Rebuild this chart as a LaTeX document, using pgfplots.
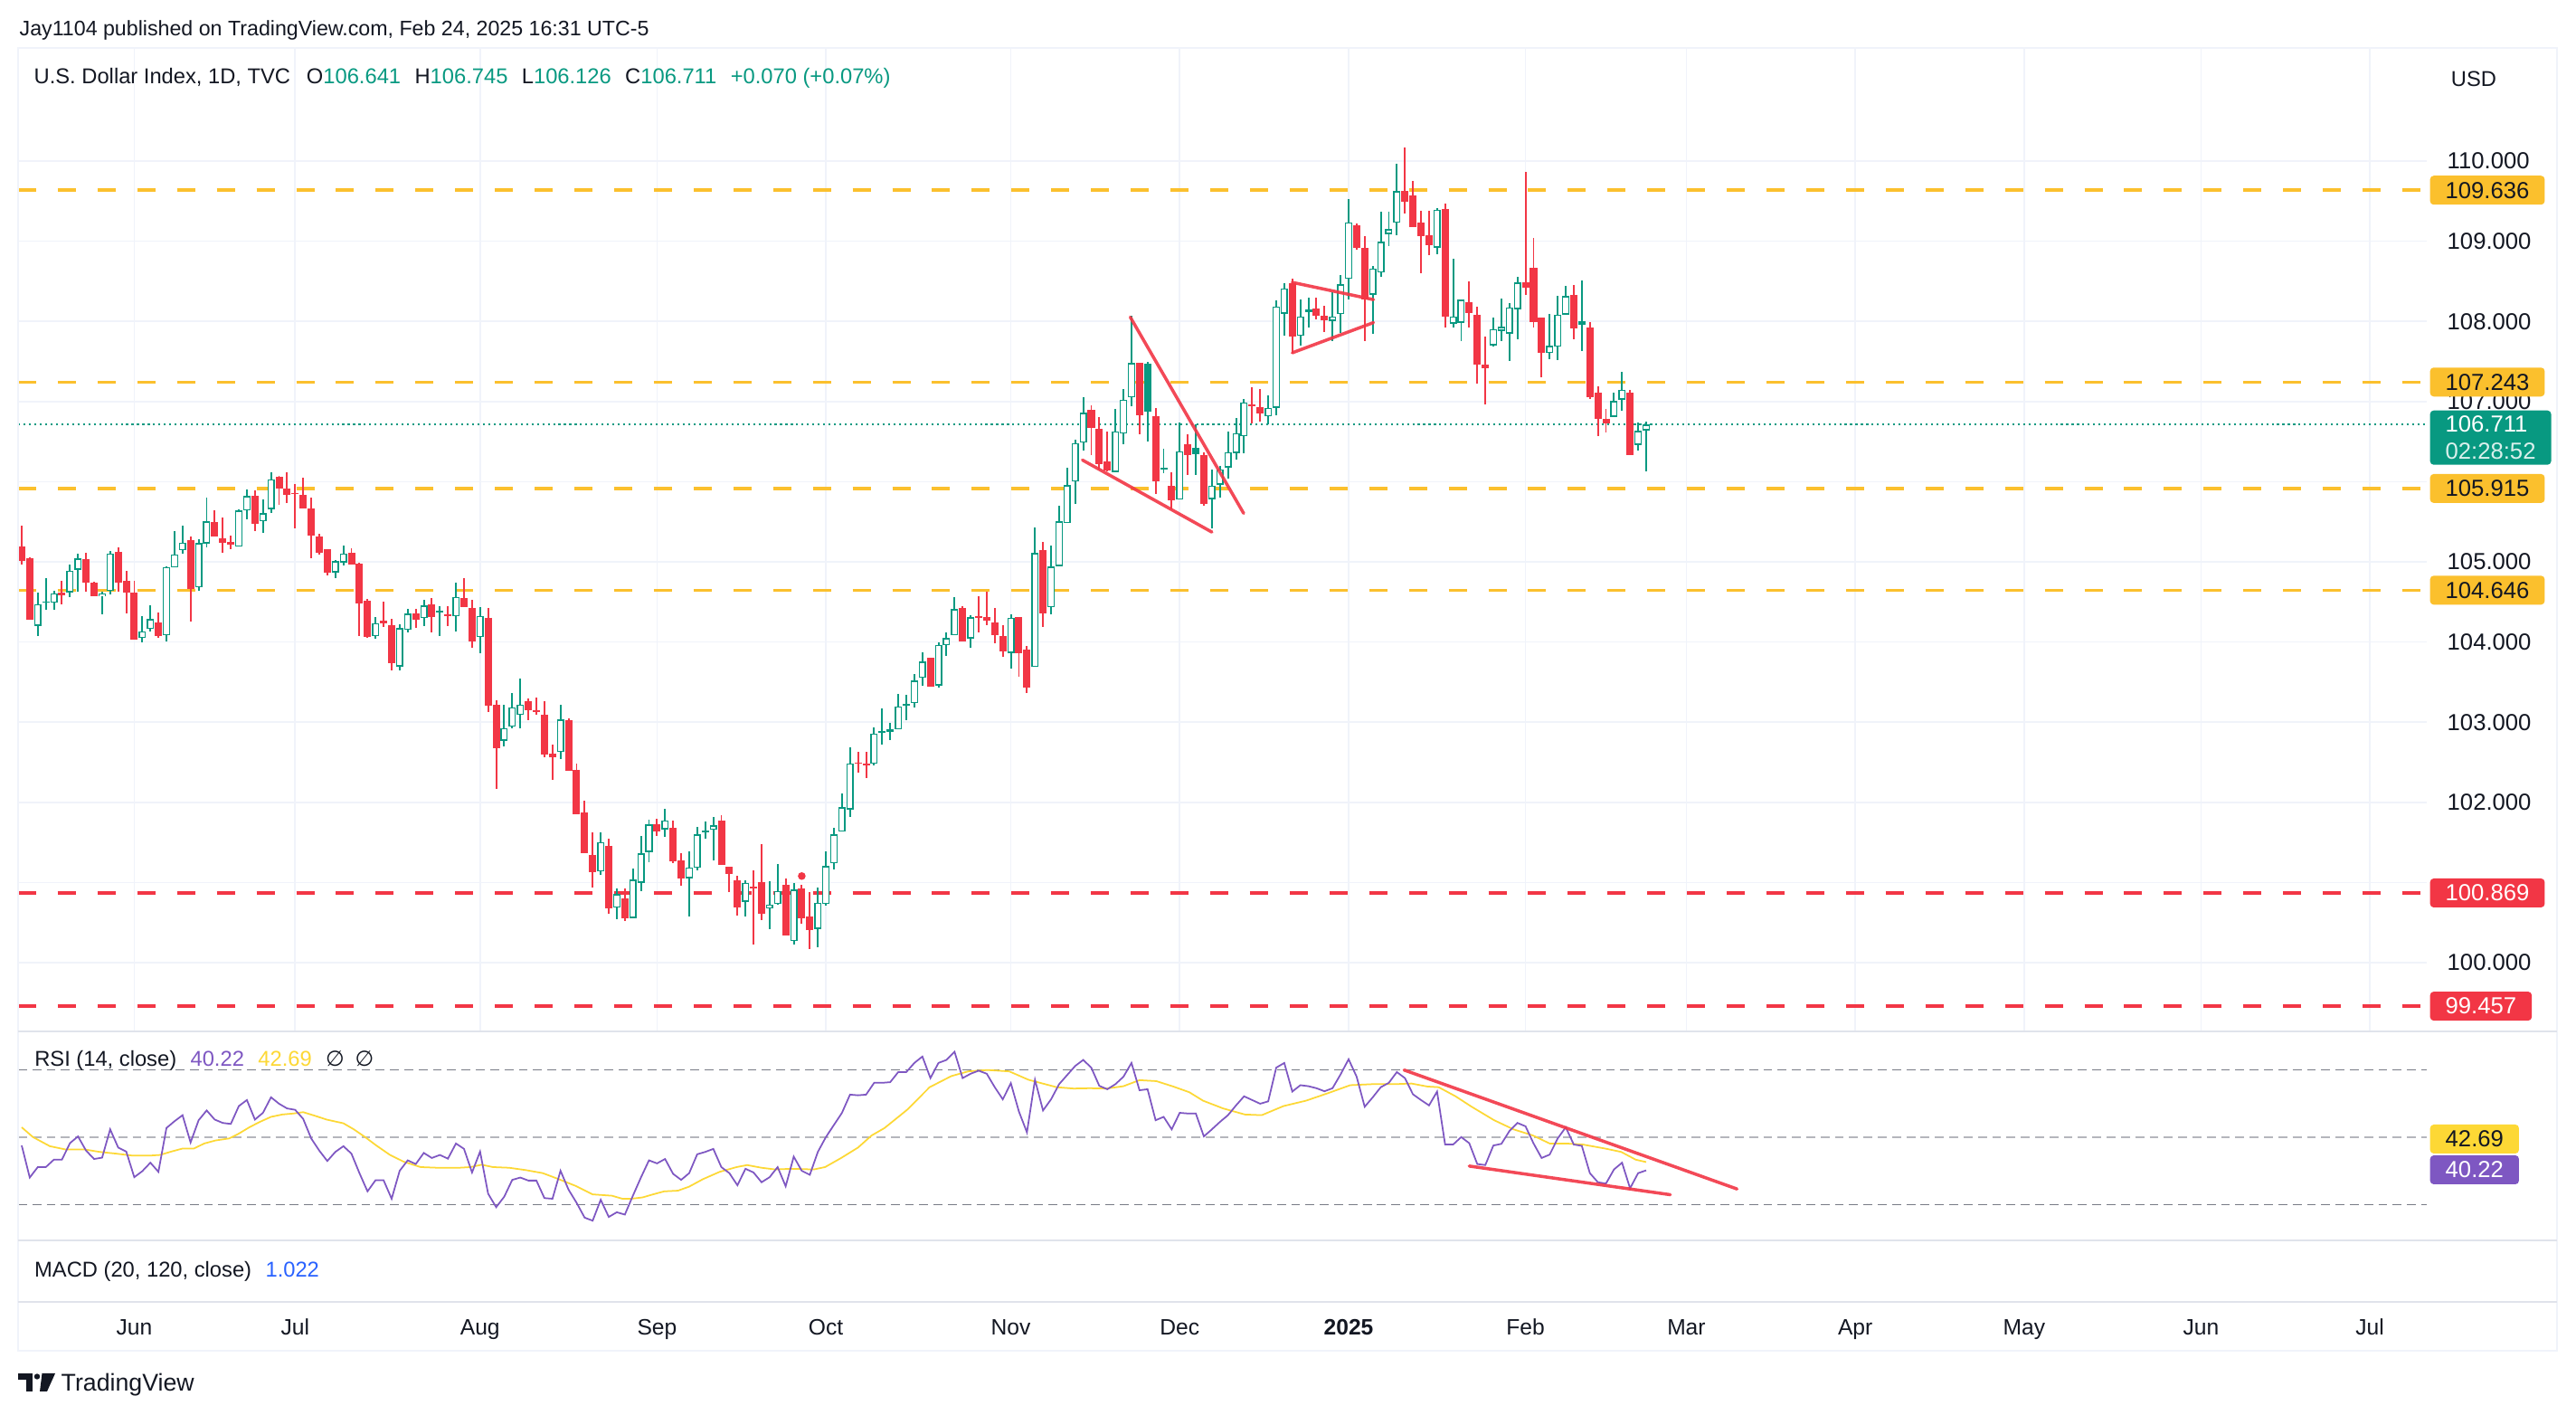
\documentclass[border=0pt]{standalone}
\usepackage{fontspec}
\setmainfont{Liberation Sans}
\newfontfamily\djv{DejaVu Sans}
\usepackage{pgfplots}
\pgfplotsset{compat=1.18}
\usepackage{pgfplotstable}

\definecolor{tvgreen}{HTML}{089981}
\definecolor{tvred}{HTML}{F23645}
\definecolor{tvorange}{HTML}{FBC02D}
\definecolor{tvpurple}{HTML}{7E57C2}
\definecolor{tvyellow}{HTML}{FDD835}
\definecolor{tvband}{HTML}{F1EDF8}
\definecolor{tvgrid}{HTML}{F0F3FA}
\definecolor{tvsep}{HTML}{E0E3EB}
\definecolor{tvtext}{HTML}{131722}
\definecolor{tvgray}{HTML}{787B86}
\definecolor{tvblue}{HTML}{2962FF}

\newcommand\fa{\fontsize{6.75}{8}\selectfont}
\newcommand\fh{\fontsize{6.6}{8}\selectfont}
\newcommand\fp{\fontsize{7.3}{8}\selectfont}
\newcommand\fd{\fontsize{7.0}{8}\selectfont}

% daily candles, x = bar index (0 = mid May 2024, 202 = 24 Feb 2025)
% hollow green: close > open
\pgfplotstableread{
i o h l c
2 104.200 104.618 104.079 104.475
3 104.495 104.795 104.400 104.502
4 104.493 104.636 104.400 104.606
6 104.618 104.964 104.557 104.889
7 104.900 105.104 104.625 105.040
10 104.569 104.633 104.343 104.606
11 104.637 105.134 104.595 105.107
15 104.053 104.324 103.992 104.136
16 104.166 104.456 104.128 104.286
18 104.087 104.942 104.004 104.934
19 104.934 105.386 104.934 105.096
20 105.145 105.454 105.096 105.243
22 104.682 105.284 104.644 105.235
23 105.228 105.800 105.179 105.503
27 105.190 105.657 105.190 105.642
28 105.642 105.906 105.537 105.819
30 105.507 105.782 105.367 105.605
31 105.657 106.121 105.605 106.030
39 104.868 105.020 104.803 105.009
40 104.994 105.204 104.952 105.108
44 104.075 104.316 104.037 104.239
47 103.694 104.220 103.649 104.171
48 104.152 104.411 104.125 104.354
50 104.296 104.525 104.201 104.457
52 104.373 104.449 104.079 104.388
54 104.323 104.742 104.136 104.563
57 104.060 104.437 103.866 104.327
60 102.772 103.222 102.703 102.925
61 102.944 103.363 102.925 103.184
62 103.088 103.542 102.925 103.222
67 102.627 103.222 102.543 103.031
72 101.136 101.625 101.090 101.505
74 100.684 100.928 100.544 100.853
76 100.556 101.173 100.556 101.034
77 100.996 101.580 100.895 101.362
78 101.380 101.787 101.252 101.723
80 101.663 101.919 101.569 101.776
83 101.053 101.392 100.582 101.185
84 101.185 101.693 101.147 101.599
85 101.637 101.761 101.542 101.648
86 101.663 101.817 101.271 101.712
90 100.759 101.026 100.571 100.996
93 100.676 101.015 100.420 100.725
94 100.733 101.234 100.721 100.895
96 100.273 100.996 100.232 100.910
99 100.420 100.932 100.194 100.751
100 100.733 101.392 100.714 101.203
101 101.241 101.686 101.166 101.599
102 101.637 102.107 101.637 101.938
103 101.911 102.691 101.817 102.484
106 102.483 102.930 102.463 102.860
107 102.872 103.175 102.724 102.887
108 102.879 102.988 102.774 102.910
109 102.910 103.350 102.910 103.198
110 103.214 103.339 103.027 103.230
111 103.241 103.599 103.183 103.521
112 103.553 103.872 103.455 103.755
114 103.455 104.000 103.428 103.961
115 103.961 104.117 103.825 104.047
116 104.086 104.564 104.086 104.409
118 104.047 104.331 103.930 104.311
123 103.864 104.350 103.669 104.304
126 103.689 105.428 103.689 105.109
128 104.436 105.206 104.342 104.942
129 104.946 105.704 104.946 105.506
130 105.486 106.179 105.486 105.957
131 106.004 106.529 105.720 106.479
132 106.490 107.054 106.385 106.860
136 106.121 106.911 106.121 106.626
137 106.599 107.152 106.471 107.023
138 107.054 108.066 106.938 107.482
142 106.147 106.414 106.102 106.170
144 105.774 106.734 105.774 106.377
148 105.782 106.151 105.424 105.951
149 105.962 106.200 105.800 106.151
150 106.177 106.629 106.038 106.369
151 106.358 106.798 106.275 106.603
152 106.565 107.036 106.350 106.991
155 106.817 107.073 106.716 106.923
156 106.923 108.260 106.829 108.185
157 108.098 108.475 107.827 108.411
159 107.819 108.271 107.695 108.064
163 108.008 108.362 107.751 108.064
164 108.090 108.580 107.857 108.460
165 108.531 109.529 108.271 109.239
168 108.335 108.693 107.846 108.663
169 108.610 109.371 108.561 108.994
170 109.089 109.371 108.938 109.153
171 109.228 109.962 109.077 109.627
176 108.919 109.416 108.836 109.397
178 107.970 108.787 107.921 108.064
179 107.985 108.279 107.751 108.271
183 107.702 108.053 107.684 107.902
184 107.883 108.290 107.751 107.932
185 107.846 108.234 107.507 108.173
186 108.154 108.561 107.782 108.486
190 107.608 108.098 107.533 107.695
191 107.687 108.316 107.514 108.083
192 108.083 108.440 108.083 108.316
198 106.810 107.111 106.810 107.006
199 107.024 107.375 106.885 107.149
201 106.459 106.734 106.388 106.633
202 106.641 106.745 106.126 106.711
}\upc

% filled red: close < open
\pgfplotstableread{
i o h l c
0 105.190 105.454 104.964 105.009
1 105.047 105.058 104.275 104.275
5 104.618 104.765 104.475 104.588
8 105.032 105.115 104.633 104.738
9 104.738 104.750 104.569 104.569
12 105.126 105.179 104.633 104.738
13 104.765 104.889 104.362 104.614
14 104.614 104.765 104.034 104.034
17 104.241 104.369 104.049 104.079
21 105.273 105.318 104.260 104.663
24 105.499 105.642 105.311 105.322
25 105.292 105.556 105.115 105.243
26 105.247 105.330 105.153 105.209
29 105.823 105.895 105.379 105.469
32 106.064 106.075 105.706 105.913
33 105.913 106.121 105.736 105.842
34 105.861 105.974 105.424 105.849
35 105.832 106.050 105.661 105.661
36 105.668 105.802 105.051 105.325
37 105.318 105.352 105.097 105.116
38 105.162 105.162 104.830 104.860
41 105.116 105.165 104.971 104.971
42 104.975 104.990 104.079 104.487
43 104.514 104.537 104.049 104.068
45 104.266 104.506 104.190 104.239
46 104.209 104.289 103.649 103.732
49 104.354 104.411 104.182 104.278
51 104.468 104.552 104.125 104.316
53 104.342 104.449 104.201 104.323
55 104.548 104.800 104.441 104.441
56 104.426 104.525 103.923 104.003
58 104.304 104.422 103.123 103.210
59 103.222 103.275 102.162 102.673
63 103.260 103.298 103.031 103.146
64 103.153 103.306 103.096 103.123
65 103.096 103.260 102.562 102.593
66 102.608 102.722 102.277 102.562
68 103.024 103.046 102.391 102.391
69 102.410 102.486 101.850 101.850
70 101.877 102.018 101.362 101.370
71 101.343 101.625 100.940 101.128
73 101.456 101.542 100.608 100.676
75 100.808 100.928 100.518 100.556
79 101.731 101.798 101.580 101.636
81 101.686 101.776 101.241 101.260
82 101.279 101.365 100.966 101.045
87 101.776 101.844 101.222 101.222
88 101.196 101.196 100.883 101.102
89 101.026 101.090 100.593 100.695
91 100.947 101.147 100.224 100.932
92 101.004 101.475 100.533 100.608
95 100.970 101.053 100.345 100.345
97 100.925 100.970 100.480 100.556
98 100.582 100.883 100.168 100.412
104 102.500 102.627 102.370 102.480
105 102.483 102.626 102.300 102.471
113 103.805 103.805 103.447 103.447
117 104.428 104.447 104.008 104.008
119 104.323 104.576 104.117 104.311
120 104.311 104.630 104.214 104.272
121 104.241 104.428 103.981 104.086
122 104.078 104.214 103.817 103.883
124 104.311 104.311 103.572 103.864
125 103.903 103.953 103.370 103.436
127 105.148 105.253 104.183 104.358
133 106.899 106.957 106.335 106.673
134 106.665 106.809 106.148 106.218
135 106.257 106.626 106.132 106.140
139 107.482 107.482 106.595 106.829
141 106.821 106.923 105.849 106.011
143 105.944 106.124 105.661 105.774
145 106.471 106.591 106.087 106.328
147 106.328 106.365 105.699 105.718
153 106.968 107.179 106.727 106.942
154 106.934 107.156 106.753 106.855
158 108.475 108.531 107.601 107.808
161 108.158 108.298 108.023 108.072
162 108.072 108.196 107.864 108.008
166 109.202 109.220 108.900 108.919
167 108.919 109.070 107.751 108.279
172 109.627 110.173 109.341 109.492
173 109.567 109.748 109.175 109.175
174 109.228 109.379 108.599 109.062
175 109.070 109.379 108.825 108.949
177 109.397 109.465 107.921 108.060
180 108.241 108.505 107.921 108.102
181 108.083 108.185 107.224 107.458
182 107.461 107.808 106.968 107.412
187 108.493 109.868 108.335 108.418
188 108.674 109.040 107.921 107.989
189 108.053 108.053 107.300 107.612
193 108.335 108.460 107.782 107.910
195 107.921 107.996 107.028 107.055
196 107.111 107.186 106.565 106.780
197 106.783 106.904 106.621 106.727
200 107.111 107.149 106.328 106.328
}\dnc

% filled green: close < open but above previous close
\pgfplotstableread{
i o h l c
140 107.476 107.495 106.501 106.874
146 106.426 106.716 106.087 106.347
160 108.147 108.298 107.921 108.120
194 108.008 108.516 107.627 107.959
}\fgc

% RSI(14)
\pgfplotstableread{
i r
0 47.6
1 38.1
2 41.2
3 41.2
4 43.4
5 43.4
6 48.3
7 50.3
8 46.1
9 43.6
10 44.0
11 52.4
12 47.0
13 45.8
14 38.2
15 40.0
16 42.5
17 39.8
18 52.8
19 54.8
20 56.6
21 48.5
22 55.1
23 58.0
24 55.3
25 54.3
26 54.0
27 59.3
28 61.1
29 55.3
30 57.3
31 61.9
32 60.0
33 58.6
34 58.2
35 55.5
36 49.7
37 46.1
38 43.0
39 45.7
40 47.4
41 45.2
42 39.4
43 34.0
44 37.3
45 37.3
46 31.8
47 40.1
48 43.2
49 42.1
50 45.4
51 43.9
52 44.8
53 43.7
54 48.2
55 46.6
56 39.6
57 45.8
58 33.3
59 29.3
60 32.4
61 37.4
62 38.1
63 37.2
64 37.2
65 32.0
66 31.8
67 40.1
68 34.5
69 30.6
70 26.2
71 25.3
72 31.5
73 26.4
74 27.8
75 27.1
76 32.7
77 38.1
78 43.2
79 42.3
80 43.6
81 39.2
82 37.4
83 39.4
84 45.0
85 45.7
86 46.6
87 41.2
88 39.4
89 35.8
90 40.7
91 39.6
92 36.7
93 38.2
94 41.2
95 35.5
96 44.3
97 40.1
98 38.9
99 45.7
100 50.1
101 53.7
102 57.3
103 62.7
104 62.5
105 62.7
106 66.2
107 66.2
108 66.4
109 69.4
110 69.4
111 72.1
112 74.0
113 67.6
114 72.1
115 73.0
116 75.4
117 67.6
118 68.9
119 69.8
120 68.9
121 64.9
122 61.3
123 66.1
124 57.7
125 51.5
126 67.1
127 58.0
128 61.3
129 65.8
130 68.5
131 71.2
132 73.0
133 70.7
134 65.3
135 64.3
136 65.8
137 68.0
138 72.1
139 64.0
140 64.3
141 55.1
142 56.1
143 52.4
144 57.3
145 57.1
146 57.1
147 50.3
148 52.4
149 54.6
150 56.6
151 59.5
152 62.2
153 61.1
154 60.0
155 60.7
156 70.7
157 72.1
158 63.6
159 65.5
160 65.2
161 64.6
162 63.7
163 64.6
164 68.7
165 73.2
166 68.0
167 59.1
168 61.9
169 64.9
170 66.2
171 69.4
172 67.6
173 62.8
174 61.1
175 59.5
176 63.6
177 47.9
178 47.9
179 50.1
180 48.3
181 42.1
182 41.8
183 47.6
184 48.1
185 51.9
186 54.3
187 53.3
188 48.2
189 43.9
190 44.9
191 49.7
192 53.0
193 47.9
194 47.5
195 39.4
196 36.7
197 36.3
198 40.5
199 42.5
200 34.9
201 39.4
202 40.22
}\rsi

% RSI-based moving average
\pgfplotstableread{
i m
0 53.0
1.4 50.1
3.5 47.4
5.5 46.4
7.9 46.4
9.7 45.7
11.7 45.2
13.8 44.6
15.9 44.6
17.2 44.8
18.6 45.8
20.0 46.7
21.4 46.7
22.7 48.2
24.1 49.1
25.8 49.7
26.9 51.0
28.3 53.0
29.6 54.6
31.0 56.1
32.4 56.8
33.8 57.1
35.0 57.5
36.5 56.4
37.9 55.3
40.0 54.2
41.3 52.4
42.7 50.1
44.1 47.6
45.8 44.8
47.5 42.8
49.6 41.2
51.7 41.0
54.4 41.0
55.8 41.2
57.2 41.9
58.6 41.2
60.6 41.0
62.7 40.3
64.8 39.4
66.8 37.6
68.9 35.6
71.0 33.1
73.4 32.7
74.7 31.8
75.8 31.8
77.2 32.2
78.5 33.1
79.9 34.0
81.6 34.2
83.0 35.4
84.7 37.6
86.8 39.8
88.9 41.2
90.2 41.8
92.0 41.0
93.7 40.5
95.7 40.7
98.5 40.5
99.9 41.2
101.9 43.9
104.0 47.0
105.7 50.6
107.3 52.8
110.1 58.2
112.9 64.9
115.6 68.2
117.7 69.6
120.1 70.0
122.8 69.6
125.2 67.1
128.7 64.9
130.8 64.5
132.8 64.6
134.9 64.5
137.0 65.2
139.0 67.0
141.1 66.7
143.2 65.1
145.2 63.4
146.9 60.9
149.4 58.6
152.1 56.8
154.2 56.6
156.9 59.3
159.7 60.9
162.4 63.1
165.2 65.5
167.9 65.8
170.7 65.8
172.8 66.0
174.8 65.1
176.2 64.9
178.3 62.2
180.3 59.1
183.1 55.1
185.5 52.4
187.9 50.6
190.0 48.2
192.0 48.2
194.1 47.9
196.9 46.7
198.9 45.7
200.7 43.4
202.0 42.69
}\rsima

\tikzset{
  pbox/.style={anchor=west, inner xsep=0.17cm, inner ysep=0pt, minimum height=0.32cm,
    rounded corners=0.04cm, font=\fp},
}
\pgfplotsset{
  tvpane/.style={scale only axis, anchor=south west, width=26.63cm,
    xmin=-0.45, xmax=299.07,
    axis line style={draw=none}, major tick length=0pt,
    xtick={14,34,57,79,100,123,144,165,187,207,228,249,271,292},
    grid style={tvgrid, line width=0.5pt},
    y tick label style={font=\fp, text=tvtext, anchor=west, xshift=0.22cm, inner sep=0pt},
    yticklabel pos=right},
  candle/.style n args={2}{color=#1, only marks, mark=*, mark size=0pt,
    mark options={opacity=0}, forget plot,
    error bars/.cd, y dir=both, y explicit, error mark=none,
    error bar style={draw=#1, line width=#2, line cap=butt}},
  level/.style={#1, line width=1.0pt, dash pattern=on 5.7pt off 6.8pt, forget plot},
}

\begin{document}
\begin{tikzpicture}
\fill[white] (0,0) rectangle (28.48,15.64);

% ---------- price pane ----------
\begin{axis}[tvpane, at={(0.20cm,4.24cm)}, height=10.87cm,
  ymin=99.142, ymax=111.411,
  xmajorgrids, ymajorgrids, xticklabels={},
  ytick={100,102,103,104,105,107,108,109,110},
  yticklabels={100.000,102.000,103.000,104.000,105.000,107.000,108.000,109.000,110.000},
  extra y ticks={101,106}, extra y tick labels={},
  extra y tick style={grid=major, grid style={tvgrid, line width=0.5pt}},
]
\addplot[level=tvorange] coordinates {(-0.45,109.636) (299.07,109.636)};
\addplot[level=tvorange] coordinates {(-0.45,107.243) (299.07,107.243)};
\addplot[level=tvorange] coordinates {(-0.45,105.915) (299.07,105.915)};
\addplot[level=tvorange] coordinates {(-0.45,104.646) (299.07,104.646)};
\addplot[level=tvred] coordinates {(-0.45,100.869) (299.07,100.869)};
\addplot[level=tvred] coordinates {(-0.45,99.457) (299.07,99.457)};
\addplot[tvgreen, line width=0.6pt, dash pattern=on 0.6pt off 1.1pt, forget plot]
  coordinates {(-0.45,106.711) (299.07,106.711)};

% wicks
\addplot[candle={tvgreen}{0.55pt}] table[x=i, y expr={(\thisrow{h}+\thisrow{l})/2},
  y error expr={(\thisrow{h}-\thisrow{l})/2}] {\upc};
\addplot[candle={tvred}{0.55pt}] table[x=i, y expr={(\thisrow{h}+\thisrow{l})/2},
  y error expr={(\thisrow{h}-\thisrow{l})/2}] {\dnc};
\addplot[candle={tvgreen}{0.55pt}] table[x=i, y expr={(\thisrow{h}+\thisrow{l})/2},
  y error expr={(\thisrow{h}-\thisrow{l})/2}] {\fgc};
% bodies
\addplot[candle={tvgreen}{2.28pt}] table[x=i, y expr={(\thisrow{o}+\thisrow{c})/2},
  y error expr={max(abs(\thisrow{o}-\thisrow{c})/2,0.008)}] {\upc};
\addplot[candle={white}{1.48pt}] table[x=i, y expr={(\thisrow{o}+\thisrow{c})/2},
  y error expr={max(abs(\thisrow{o}-\thisrow{c})/2-0.016,0)}] {\upc};
\addplot[candle={tvred}{2.28pt}] table[x=i, y expr={(\thisrow{o}+\thisrow{c})/2},
  y error expr={max(abs(\thisrow{o}-\thisrow{c})/2,0.008)}] {\dnc};
\addplot[candle={tvgreen}{2.28pt}] table[x=i, y expr={(\thisrow{o}+\thisrow{c})/2},
  y error expr={max(abs(\thisrow{o}-\thisrow{c})/2,0.008)}] {\fgc};

\addplot[only marks, mark=*, mark size=1pt, tvred, forget plot] coordinates {(97,101.08)};

% pattern lines
\addplot[tvred, line width=1.0pt, line cap=round, opacity=0.9] coordinates {(137.85,108.053) (151.95,105.605)};
\addplot[tvred, line width=1.0pt, line cap=round, opacity=0.9] coordinates {(131.9,106.27) (148.0,105.371)};
\addplot[tvred, line width=1.0pt, line cap=round, opacity=0.9] coordinates {(158.0,108.486) (168.1,108.271)};
\addplot[tvred, line width=1.0pt, line cap=round, opacity=0.9] coordinates {(158.0,107.608) (168.1,107.985)};

\coordinate (b1) at (axis cs:299.4,109.636);
\coordinate (b2) at (axis cs:299.4,107.243);
\coordinate (b3) at (axis cs:299.4,105.915);
\coordinate (b4) at (axis cs:299.4,104.646);
\coordinate (b5) at (axis cs:299.4,100.869);
\coordinate (b6) at (axis cs:299.4,99.457);
\coordinate (bc) at (axis cs:299.4,106.711);
\end{axis}

% ---------- RSI pane ----------
\begin{axis}[tvpane, at={(0.20cm,1.93cm)}, height=2.31cm,
  ymin=19.45, ymax=81.46, set layers,
  xmajorgrids, ymajorgrids, xticklabels={},
  ytick={60,80}, yticklabels={60.00,80.00},
  extra y ticks={40}, extra y tick labels={},
  extra y tick style={grid=major, grid style={tvgrid, line width=0.5pt}},
]
\addplot[on layer=axis background, draw=none, fill=tvband, forget plot]
  coordinates {(-0.45,30) (299.07,30) (299.07,70) (-0.45,70)};
\addplot[tvgray, line width=0.45pt, dash pattern=on 2.8pt off 1.7pt, forget plot]
  coordinates {(-0.45,70) (299.07,70)};
\addplot[tvgray!55, line width=0.45pt, dash pattern=on 2.8pt off 1.7pt, forget plot]
  coordinates {(-0.45,50) (299.07,50)};
\addplot[tvgray, line width=0.45pt, dash pattern=on 2.8pt off 1.7pt, forget plot]
  coordinates {(-0.45,30) (299.07,30)};
\addplot[tvyellow, line width=0.5pt] table[x=i, y=m] {\rsima};
\addplot[tvpurple, line width=0.5pt] table[x=i, y=r] {\rsi};
\addplot[tvred, line width=1.0pt, line cap=round, opacity=0.9] coordinates {(171.9,70.0) (213.3,34.7)};
\addplot[tvred, line width=1.0pt, line cap=round, opacity=0.9] coordinates {(180.0,41.5) (205.0,33.0)};
\end{axis}

% ---------- MACD pane with date axis ----------
\begin{axis}[tvpane, at={(0.20cm,1.25cm)}, height=0.68cm,
  ymin=0, ymax=1, ytick=\empty,
  xticklabels={Jun,Jul,Aug,Sep,Oct,Nov,Dec,\textbf{2025},Feb,Mar,Apr,May,Jun,Jul},
  x tick label style={font=\fd, text=tvtext, anchor=base, yshift=-0.37cm, inner sep=0pt},
]
\addplot[draw=none, forget plot] coordinates {(0,0.5) (290,0.5)};
\end{axis}

% frame and separators
\draw[tvgrid, line width=0.6pt] (0.20,0.71) rectangle (28.27,15.11);
\draw[tvsep, line width=0.7pt] (0.20,4.24) -- (28.27,4.24);
\draw[tvsep, line width=0.7pt] (0.20,1.93) -- (28.27,1.93);
\draw[tvsep, line width=0.7pt] (0.20,1.25) -- (28.27,1.25);

% price scale boxes
\node[pbox, fill=tvorange, text=tvtext] at (b1) {109.636};
\node[pbox, fill=tvorange, text=tvtext] at (b2) {107.243};
\node[pbox, fill=tvorange, text=tvtext] at (b3) {105.915};
\node[pbox, fill=tvorange, text=tvtext] at (b4) {104.646};
\node[pbox, fill=tvred, text=white] at (b5) {100.869};
\node[pbox, fill=tvred, text=white] at (b6) {99.457};
\node[anchor=north west, fill=tvgreen, text=white, inner xsep=0.17cm, inner ysep=0pt,
  minimum height=0.60cm, minimum width=1.32cm, rounded corners=0.04cm, align=left,
  font=\fp, yshift=0.164cm] at (bc) {106.711\\[0.5pt]\textcolor{white!85!tvgreen}{02:28:52}};
\node[pbox, fill=tvyellow, text=tvtext] at (26.86,3.05) {42.69};
\node[pbox, fill=tvpurple, text=white] at (26.86,2.71) {40.22};

% texts
\node[anchor=base west, inner sep=0pt, font=\fh, text=tvtext] at (0.21,15.24)
  {Jay1104 published on TradingView.com, Feb 24, 2025 16:31 UTC-5};
\node[anchor=base west, inner sep=0pt, font=\fa, text=tvtext] at (0.37,14.715)
  {U.S. Dollar Index, 1D, TVC\hspace{0.75em}O\textcolor{tvgreen}{106.641}\hspace{0.65em}H\textcolor{tvgreen}{106.745}\hspace{0.65em}L\textcolor{tvgreen}{106.126}\hspace{0.65em}C\textcolor{tvgreen}{106.711}\hspace{0.65em}\textcolor{tvgreen}{+0.070 (+0.07\%)}};
\node[anchor=center, inner sep=0pt, font=\fa, text=tvtext] at (27.35,14.77) {USD};
\node[anchor=base west, inner sep=0pt, font=\fa, text=tvtext] at (0.376,3.85)
  {RSI (14, close)\hspace{0.65em}\textcolor{tvpurple}{40.22}\hspace{0.65em}\textcolor{tvyellow}{42.69}\hspace{0.65em}{\djv ∅}\hspace{0.5em}{\djv ∅}};
\node[anchor=base west, inner sep=0pt, font=\fa, text=tvtext] at (0.375,1.52)
  {MACD (20, 120, close)\hspace{0.65em}\textcolor{tvblue}{1.022}};

% TradingView mark
\fill[tvtext] (0.20,0.46) rectangle (0.36,0.39);
\fill[tvtext] (0.29,0.46) rectangle (0.36,0.26);
\fill[tvtext] (0.41,0.425) circle (0.032);
\fill[tvtext] (0.465,0.46) -- (0.61,0.46) -- (0.52,0.26) -- (0.44,0.26) -- cycle;
\node[anchor=base west, inner sep=0pt, font=\fontsize{7.6}{9}\selectfont, text=tvtext] at (0.67,0.26) {TradingView};

\pgfresetboundingbox
\path[use as bounding box] (0,0) rectangle (28.48,15.64);
\end{tikzpicture}
\end{document}
